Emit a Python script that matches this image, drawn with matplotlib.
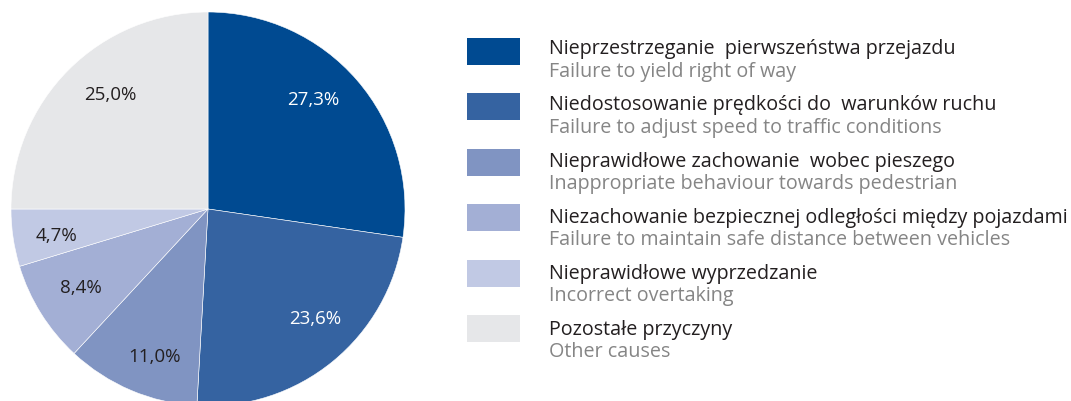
import matplotlib
matplotlib.use("Agg")
import numpy as np
import matplotlib.pyplot as plt
from matplotlib.patches import Rectangle

labels_pl = [
    "Nieprzestrzeganie  pierwszeństwa przejazdu",
    "Niedostosowanie prędkości do  warunków ruchu",
    "Nieprawidłowe zachowanie  wobec pieszego",
    "Niezachowanie bezpiecznej odległości między pojazdami",
    "Nieprawidłowe wyprzedzanie",
    "Pozostałe przyczyny",
]
labels_en = [
    "Failure to yield right of way",
    "Failure to adjust speed to traffic conditions",
    "Inappropriate behaviour towards pedestrian",
    "Failure to maintain safe distance between vehicles",
    "Incorrect overtaking",
    "Other causes",
]
values = [27.3, 23.6, 11.0, 8.4, 4.7, 25.0]
colors = ["#004A91", "#3563A1", "#8094C2", "#A3AFD5", "#C1C9E4", "#E6E7E9"]
pct_colors = ["white", "white", "#231F20", "#231F20", "#231F20", "#231F20"]
# label placement tweaks (radial distance, angle offset in degrees)
label_dist = [0.77, 0.78, 0.80, 0.76, 0.78, 0.76]
label_dang = [5.2, 4.8, 3.2, -0.3, 1.5, -4.3]

FONT = "Open Sans"
W, H = 1071, 401
fig = plt.figure(figsize=(W / 100, H / 100), dpi=100)

# pie axes: center (208,209) px from top, radius 197
cx, cy, r = 208, 209, 197
ax = fig.add_axes([(cx - r) / W, (H - (cy + r)) / H, 2 * r / W, 2 * r / H])
wedges, texts, autotexts = ax.pie(
    values, colors=colors, startangle=90, counterclock=False, radius=1,
    autopct=lambda p: f"{p:.1f}%".replace(".", ","), pctdistance=0.77,
    wedgeprops=dict(edgecolor="white", linewidth=0.4),
    textprops=dict(fontfamily=FONT, fontsize=13.5),
)
for w, t, c, d, da in zip(wedges, autotexts, pct_colors, label_dist, label_dang):
    t.set_color(c)
    mid = np.deg2rad((w.theta1 + w.theta2) / 2 + da)
    t.set_position((d * np.cos(mid), d * np.sin(mid)))
ax.set_xlim(-1, 1)
ax.set_ylim(-1, 1)
ax.set_aspect("equal")
ax.axis("off")

# legend axes in pixel coords
lax = fig.add_axes([0, 0, 1, 1])
lax.set_xlim(0, W)
lax.set_ylim(H, 0)
lax.axis("off")
for i, (pl, en, c) in enumerate(zip(labels_pl, labels_en, colors)):
    yp = 51.5 + 55.4 * i
    yt = 54.3 + 56.1 * i
    lax.add_patch(Rectangle((467, yp - 13.5), 53, 27, facecolor=c, edgecolor="none"))
    lax.text(549, yt, pl, fontsize=14.2, fontfamily=FONT, color="#231F20",
             va="baseline")
    lax.text(549, yt + 22.5, en, fontsize=14.2, fontfamily=FONT, color="#858585",
             va="baseline")

fig.savefig("out.png", dpi=100)
